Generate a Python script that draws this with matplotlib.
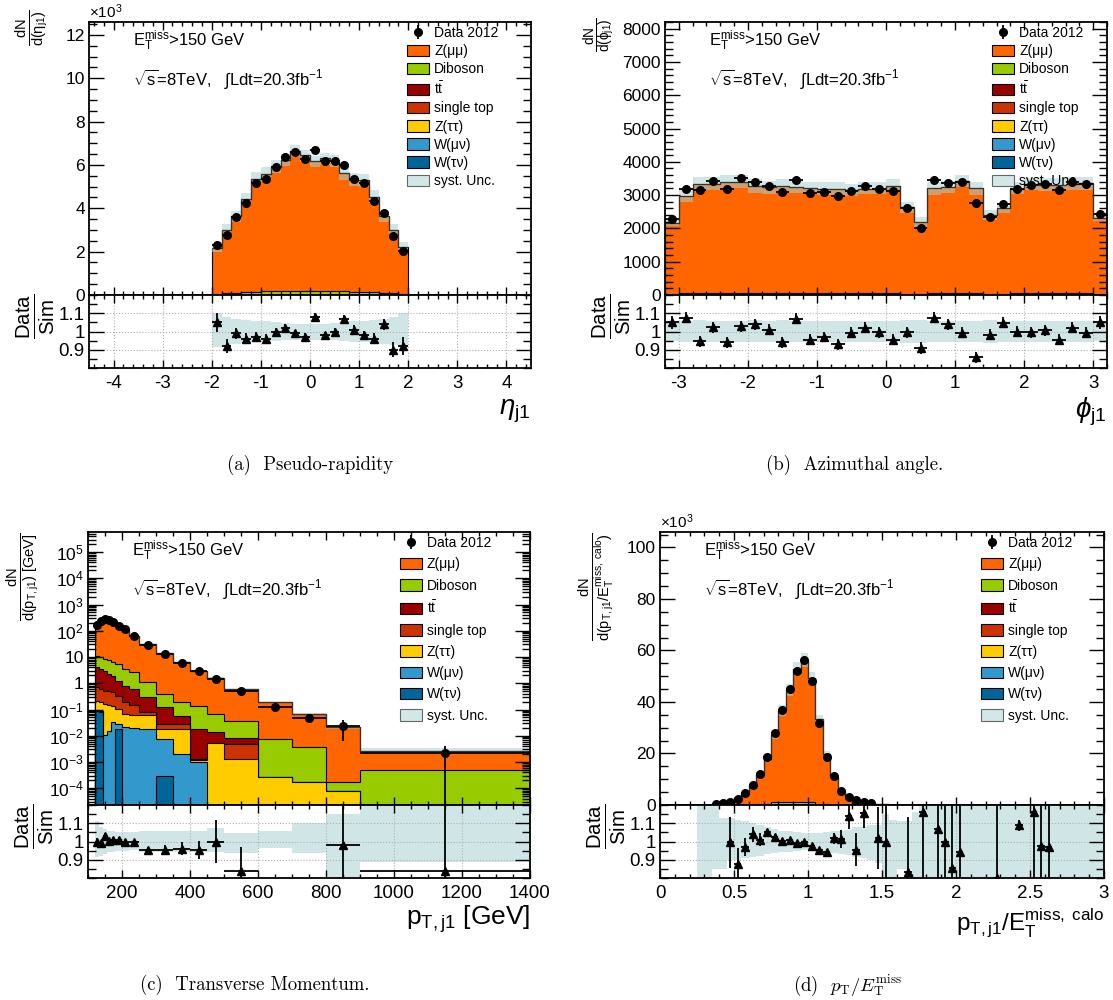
import numpy as np
import matplotlib
matplotlib.use("Agg")
import matplotlib.pyplot as plt
from matplotlib.patches import Patch
from matplotlib.ticker import FixedLocator, FixedFormatter, MultipleLocator, LogLocator, NullFormatter

plt.rcParams['font.family'] = ['Liberation Sans', 'DejaVu Sans']
plt.rcParams['mathtext.fontset'] = 'custom'
plt.rcParams['mathtext.rm'] = 'Liberation Sans'
plt.rcParams['mathtext.it'] = 'Liberation Sans:italic'
plt.rcParams['mathtext.bf'] = 'Liberation Sans:bold'

W, H = 1113, 1000

# sample colours
C_ZMM = '#ff6600'
C_DIB = '#99cc00'
C_TT = '#990000'
C_ST = '#cc3300'
C_ZTT = '#ffcc00'
C_WMU = '#3399cc'
C_WTAU = '#006699'
C_SYST = '#a8d1d1'

# ---- (a) leading jet eta (events x 10^3)
eta_edges = np.round(np.arange(-2.0, 2.01, 0.2), 2)
eta_data = [2.30, 2.78, 3.60, 4.24, 5.18, 5.37, 5.92, 6.35, 6.58, 6.26,
            6.67, 6.17, 6.18, 6.00, 5.37, 5.18, 4.35, 3.79, 2.72, 2.05]
eta_data_err = [0.07, 0.08, 0.09, 0.09, 0.10, 0.10, 0.10, 0.11, 0.11, 0.10,
                0.11, 0.10, 0.10, 0.10, 0.10, 0.10, 0.09, 0.09, 0.08, 0.07]
eta_zmm = [2.15, 2.95, 3.54, 4.29, 5.19, 5.39, 5.74, 6.05, 6.45, 6.25,
           6.00, 6.12, 6.01, 5.44, 5.16, 5.13, 4.40, 3.54, 2.95, 2.19]
eta_dib = [0.04, 0.07, 0.10, 0.13, 0.15, 0.20, 0.18, 0.18, 0.20, 0.20,
           0.18, 0.18, 0.17, 0.17, 0.16, 0.16, 0.13, 0.10, 0.07, 0.04]
eta_syst_up = [0.10, 0.08, 0.07, 0.065, 0.06, 0.055, 0.05, 0.045, 0.04, 0.04,
               0.04, 0.04, 0.045, 0.05, 0.055, 0.06, 0.065, 0.07, 0.08, 0.10]
eta_syst_dn = [0.085, 0.075, 0.07, 0.065, 0.06, 0.055, 0.05, 0.045, 0.045, 0.045,
               0.045, 0.045, 0.045, 0.05, 0.055, 0.06, 0.065, 0.07, 0.075, 0.085]
eta_ratio = [1.05, 0.92, 0.99, 0.96, 0.97, 0.96, 1.00, 1.02, 0.99, 0.97,
             1.08, 0.98, 1.00, 1.07, 1.01, 0.98, 0.96, 1.04, 0.90, 0.92]
eta_ratio_err = [0.05, 0.04, 0.03, 0.03, 0.025, 0.025, 0.02, 0.02, 0.02, 0.02,
                 0.02, 0.02, 0.02, 0.02, 0.025, 0.025, 0.03, 0.03, 0.04, 0.05]

# ---- (b) leading jet phi
phi_edges = np.round(np.arange(-3.2, 3.21, 0.2), 2)
phi_data = [2276, 3192, 3163, 3429, 3192, 3507, 3389, 3261, 3084, 3458, 3074, 3094,
            2965, 3133, 3261, 3182, 3133, 2621, 2000, 3448, 3360, 3399, 2759, 2355,
            2739, 3192, 3310, 3330, 3163, 3399, 3330, 2443]
phi_data_err = [50, 60, 60, 60, 60, 60, 60, 60, 60, 60, 60, 60, 55, 60, 60, 60,
                60, 55, 45, 60, 60, 60, 55, 50, 55, 60, 60, 60, 60, 60, 60, 50]
phi_zmm = [2128, 2914, 3280, 3289, 3341, 3345, 3201, 3174, 3231, 3177, 3165, 3138,
           3133, 3105, 3145, 3140, 3222, 2587, 2168, 3152, 3176, 3365, 3158, 2361,
           2569, 3143, 3268, 3249, 3254, 3277, 3298, 2287]
phi_dib = [40, 55, 60, 60, 55, 60, 58, 55, 50, 55, 50, 52, 55, 50, 52, 55,
           55, 45, 30, 55, 55, 58, 50, 35, 45, 55, 55, 58, 55, 55, 55, 40]
phi_syst_up = [0.05, 0.06, 0.065, 0.06, 0.06, 0.06, 0.065, 0.06, 0.065, 0.06, 0.06,
               0.06, 0.06, 0.06, 0.06, 0.06, 0.06, 0.065, 0.065, 0.06, 0.06, 0.055,
               0.06, 0.065, 0.06, 0.06, 0.06, 0.06, 0.06, 0.06, 0.06, 0.05]
phi_syst_dn = [0.05, 0.06, 0.06, 0.055, 0.055, 0.06, 0.06, 0.06, 0.06, 0.055, 0.055,
               0.055, 0.055, 0.055, 0.055, 0.055, 0.06, 0.065, 0.065, 0.06, 0.055,
               0.055, 0.06, 0.065, 0.06, 0.055, 0.055, 0.055, 0.055, 0.055, 0.055, 0.05]
phi_ratio = [1.05, 1.075, 0.947, 1.024, 0.94, 1.03, 1.04, 1.01, 0.94, 1.07, 0.956,
             0.97, 0.93, 0.993, 1.02, 0.996, 0.956, 0.996, 0.91, 1.075, 1.04, 0.993,
             0.86, 0.983, 1.048, 0.998, 0.996, 1.007, 0.956, 1.02, 0.993, 1.05]
phi_ratio_err = [0.035, 0.03, 0.03, 0.03, 0.03, 0.03, 0.03, 0.03, 0.03, 0.03, 0.03,
                 0.03, 0.03, 0.03, 0.03, 0.03, 0.03, 0.03, 0.035, 0.03, 0.03, 0.03,
                 0.03, 0.03, 0.03, 0.03, 0.03, 0.03, 0.03, 0.03, 0.03, 0.035]

# ---- (c) leading jet pT [GeV]
pt_edges = [120, 132, 144, 156, 168, 180, 200, 220, 250, 300, 350, 400, 450, 500,
            600, 700, 800, 900, 1400]
pt_data = [159, 228, 270, 263, 215, 151, 112, 66, 29, 13.2, 6.0, 2.9, 1.46, 0.51,
           0.13, 0.046, 0.023, 0.0022]
pt_data_lo = [3, 4, 4, 4, 4, 3, 3, 2, 1.2, 0.8, 0.5, 0.35, 0.25, 0.1,
              0.04, 0.012, 0.0165, 0.0022]
pt_data_hi = [3, 4, 4, 4, 4, 3, 3, 2, 1.2, 0.8, 0.5, 0.35, 0.25, 0.1,
              0.04, 0.012, 0.017, 0.002]
pt_wtau = [0.09, 0.08, 0, 0, 0, 0.018, 0, 0, 0, 0.0003, 0, 0, 0, 0, 0, 0, 0, 0]
pt_wmu = [0.01, 0.01, 0.011, 0.015, 0.032, 0.01, 0.021, 0.020, 0.018, 0.0072,
          0.002, 0.00096, 0, 0, 0, 0, 0, 0]
pt_ztt = [0.12, 0.10, 0.149, 0.135, 0.108, 0.077, 0.046, 0.040, 0.044, 0.0105,
          0.016, 0.00024, 0.0051, 0.0013, 0.00027, 0.00018, 0.000079, 0]
pt_st = [0.48, 0.42, 0.36, 0.35, 0.31, 0.235, 0.123, 0.09, 0.016, 0.01, 0.01,
         0.0001, 0, 0.0035, 0, 0, 0, 0]
pt_tt = [3.4, 2.89, 2.48, 1.8, 1.51, 0.92, 0.62, 0.46, 0.212, 0.102, 0.03, 0.0167,
         0.0083, 0.0031, 0, 0, 0, 0]
pt_dib = [6.7, 6.3, 5.5, 5.1, 4.34, 4.24, 2.69, 1.99, 0.80, 0.27, 0.142, 0.122,
          0.054, 0.029, 0.0072, 0.0036, 0.000087, 0.0005]
pt_zmm = [148, 220, 253, 256, 207, 144, 108, 63, 29.3, 13.4, 6.05, 2.86, 1.48,
          0.56, 0.18, 0.063, 0.022, 0.0022]
pt_syst_up = [0.11, 0.08, 0.07, 0.06, 0.06, 0.05, 0.05, 0.05, 0.06, 0.06, 0.06,
              0.06, 0.075, 0.045, 0.055, 0.10, 0.15, 0.25]
pt_syst_dn = [0.085, 0.08, 0.07, 0.06, 0.06, 0.05, 0.05, 0.045, 0.06, 0.06, 0.06,
              0.06, 0.055, 0.065, 0.035, 0.065, 0.20, 0.11]
pt_ratio = [1.0, 0.99, 1.03, 1.005, 1.01, 1.01, 1.0, 0.995, 0.955, 0.955, 0.96,
            0.955, 1.0, 0.84, np.nan, np.nan, 0.98, 0.84]
pt_ratio_err = [0.02, 0.015, 0.015, 0.015, 0.015, 0.015, 0.015, 0.015, 0.015, 0.025,
                0.035, 0.05, 0.12, 0.13, np.nan, np.nan, 0.5, 0.5]

# ---- (d) pT(j1) / ETmiss(calo), events x 10^3, 0.05 wide bins from 0.25
frac_edges = np.round(np.arange(0.25, 3.001, 0.05), 3)
frac_zmm = [0.02, 0.1, 0.3, 0.7, 1.3, 2.5, 4.6, 7.5, 11.7, 17.4, 26.3, 35.8, 43.6,
            51.7, 55.3, 48.3, 33.1, 19.6, 10.9, 5.3, 2.8, 2.0, 1.1, 0.7, 0.4, 0.25, 0.15]
frac_dib = [0, 0, 0, 0, 0, 0, 0, 0.1, 0.2, 0.4, 1.0, 1.0, 1.0, 1.0, 1.0, 1.0, 0.4,
            0.2, 0.1, 0, 0, 0, 0, 0, 0, 0, 0]
frac_data = [np.nan, np.nan, 0.3, 0.7, 1.3, 2.2, 4.5, 7.9, 12.0, 18.7, 28.0, 37.0,
             45.0, 52.2, 56.3, 48.0, 32.0, 18.7, 11.2, 5.4, 3.2, 1.9, 1.3, 0.7,
             np.nan, np.nan, np.nan]
frac_data_err = [0, 0, 0.03, 0.04, 0.05, 0.07, 0.1, 0.12, 0.15, 0.2, 0.25, 0.3,
                 0.3, 0.35, 0.35, 0.35, 0.3, 0.2, 0.15, 0.1, 0.08, 0.06, 0.05, 0.04,
                 0, 0, 0]
frac_syst_up = [0.25, 0.25, 0.25, 0.13, 0.13, 0.12, 0.11, 0.10, 0.09, 0.08, 0.07,
                0.06, 0.055, 0.05, 0.045, 0.045, 0.045, 0.05, 0.055, 0.06, 0.065,
                0.08, 0.08, 0.09, 0.09, 0.15, 0.12, 0.11, 0.11, 0.16] + [0.25] * 25
frac_syst_dn = [0.25, 0.25, 0.15, 0.15, 0.10, 0.10, 0.09, 0.085, 0.08, 0.07, 0.065,
                0.06, 0.055, 0.05, 0.045, 0.05, 0.055, 0.06, 0.065, 0.07, 0.075,
                0.085, 0.09, 0.10, 0.12, 0.25, 0.20, 0.15, 0.15, 0.25] + [0.25] * 25
nan = np.nan
frac_ratio = [nan, nan, nan, nan, 0.996, 0.875, 0.97, 1.04, 1.01, 1.05, 1.027, 1.005,
              1.01, 0.99, 1.0, 0.973, 0.955, 0.945, 1.018, 1.013, 1.14, 0.955, 1.155,
              nan, 1.018, 1.0, nan, nan, 0.835, nan, 1.164, nan, 1.067, 1.0, 0.855,
              0.94, nan, nan, nan, nan, 0.8, nan, nan, 1.09, nan, 1.164, 0.976, 0.97,
              nan, nan, nan, nan, nan, nan, nan]
frac_ratio_err = [nan, nan, nan, nan, 0.14, 0.09, 0.05, 0.04, 0.035, 0.02, 0.015,
                  0.012, 0.01, 0.01, 0.01, 0.01, 0.012, 0.015, 0.03, 0.05, 0.07, 0.09,
                  0.08, nan, 0.17, 0.4, nan, nan, 0.3, nan, 0.4, nan, 0.4, 0.4, 0.4,
                  0.4, nan, nan, nan, nan, 0.4, nan, nan, 0.03, nan, 0.4, 0.4, 0.4,
                  nan, nan, nan, nan, nan, nan, nan]

legend_entries = [('Z(μμ)', C_ZMM), ('Diboson', C_DIB), (r'$\mathrm{t\bar{t}}$', C_TT),
                  ('single top', C_ST), ('Z(ττ)', C_ZTT), ('W(μν)', C_WMU),
                  ('W(τν)', C_WTAU)]

fig = plt.figure(figsize=(W / 100, H / 100), dpi=100)


def panel(px, edges, comps, data, data_lo, data_hi, syst_up, syst_dn,
          ratio, ratio_err, xlim, ylim, logy=False, floor=0.0, leg_x=0.72, leg_sp=0.3):
    l, t, r, mb, rb = px
    ax = fig.add_axes([l / W, 1 - mb / H, (r - l) / W, (mb - t) / H])
    rax = fig.add_axes([l / W, 1 - rb / H, (r - l) / W, (rb - mb) / H])
    edges = np.asarray(edges, dtype=float)
    centers = 0.5 * (edges[1:] + edges[:-1])
    half = 0.5 * (edges[1:] - edges[:-1])
    if logy:
        ax.set_yscale('log')

    # stack, drawn from the top sample down
    cum = np.cumsum(np.array([c[0] for c in comps], dtype=float), axis=0)
    for i in range(len(comps) - 1, -1, -1):
        ax.stairs(np.maximum(cum[i], floor), edges, baseline=floor, fill=True,
                  facecolor=comps[i][1], edgecolor='k', linewidth=0.8)
    tot = cum[-1]
    nb = len(tot)
    up = np.array(syst_up[:nb])
    dn = np.array(syst_dn[:nb])
    ax.stairs(np.maximum(tot * (1 + up), floor), edges,
              baseline=np.maximum(tot * (1 - dn), floor), fill=True,
              facecolor=C_SYST, alpha=0.54, linewidth=0)
    ax.stairs(np.maximum(tot, floor), edges, baseline=None, color='#333333', linewidth=0.9)

    ax.errorbar(centers, data, yerr=[data_lo, data_hi], xerr=half, fmt='o', color='k',
                ms=5.5, elinewidth=1.3, capsize=0, zorder=6)
    ax.set_xlim(xlim)
    ax.set_ylim(ylim)

    # ratio pad
    redges = edges if len(syst_up) == nb else np.asarray(frac_edges)
    rc = 0.5 * (redges[1:] + redges[:-1])
    rh = 0.5 * (redges[1:] - redges[:-1])
    rax.stairs(1 + np.array(syst_up), redges, baseline=1 - np.array(syst_dn), fill=True,
               facecolor=C_SYST, alpha=0.54, linewidth=0)
    rax.errorbar(rc, ratio, yerr=ratio_err, xerr=rh, fmt='^', color='k', ms=5.5,
                 elinewidth=1.3, capsize=0, zorder=6)
    rax.set_xlim(xlim)
    rax.set_ylim(0.8, 1.2)
    rax.yaxis.set_major_locator(FixedLocator([0.9, 1.0, 1.1]))
    rax.yaxis.set_major_formatter(FixedFormatter(['0.9', '1', '1.1']))
    rax.yaxis.set_minor_locator(MultipleLocator(0.05))
    rax.grid(True, which='major', linestyle=':', color='#b0b0b0', linewidth=0.8)

    for a in (ax, rax):
        a.tick_params(which='both', direction='in', top=True, right=True, width=1)
        a.tick_params(axis='y', which='major', length=11, labelsize=12.5, pad=3)
        a.tick_params(axis='y', which='minor', length=5.5)
        a.tick_params(axis='x', which='major', length=6)
        a.tick_params(axis='x', which='minor', length=3)
        for s in a.spines.values():
            s.set_linewidth(1.3)
    ax.tick_params(labelbottom=False)
    rax.tick_params(axis='both', which='major', labelsize=13.5)
    rax.tick_params(axis='x', pad=5)

    ax.text(0.1, 0.93, r'$\mathrm{E_{T}^{miss}}$>150 GeV', transform=ax.transAxes,
            fontsize=12, va='center')
    ax.text(0.1, 0.79, r'$\sqrt{\mathrm{s}}$=8TeV,   $\int$Ldt=20.3fb$^{\mathrm{-1}}$',
            transform=ax.transAxes, fontsize=12, va='center')

    h_data = ax.errorbar([np.nan], [np.nan], yerr=[1], fmt='o', color='k', ms=5.5,
                         elinewidth=1.3, capsize=0)
    handles = [h_data] + [Patch(facecolor=c, edgecolor='k', linewidth=0.8)
                          for _, c in legend_entries]
    handles.append(Patch(facecolor='#d2e8e8', edgecolor='#666666', linewidth=0.8))
    labels = ['Data 2012'] + [n for n, _ in legend_entries] + ['syst. Unc.']
    ax.legend(handles, labels, loc='upper left', bbox_to_anchor=(leg_x, 0.985),
              frameon=False, fontsize=10, handlelength=1.6, handleheight=0.9,
              handletextpad=0.35, labelspacing=leg_sp, borderpad=0, borderaxespad=0)

    rax.text(-0.12, 0.7, r'$\frac{\mathrm{Data}}{\mathrm{Sim}}$', transform=rax.transAxes,
             rotation=90, ha='center', va='center', fontsize=21)
    return ax, rax


# (a)
ax, rax = panel((89, 22, 531, 295, 368), eta_edges, [(eta_dib, C_DIB), (eta_zmm, C_ZMM)],
                eta_data, eta_data_err, eta_data_err, eta_syst_up, eta_syst_dn,
                eta_ratio, eta_ratio_err, (-4.5, 4.5), (0, 12.6))
ax.yaxis.set_major_locator(MultipleLocator(2))
ax.yaxis.set_minor_locator(MultipleLocator(0.5))
for a in (ax, rax):
    a.xaxis.set_major_locator(MultipleLocator(1))
    a.xaxis.set_minor_locator(MultipleLocator(0.2))
rax.set_xticks([-4, -3, -2, -1, 0, 1, 2, 3, 4], ['-4', '-3', '-2', '-1', '0', '1', '2', '3', '4'])
ax.text(0.0, 1.005, r'$\times$10$^{3}$', transform=ax.transAxes, fontsize=11, va='bottom')
ax.text(-0.13, 1.045, r'$\frac{\mathrm{dN}}{\mathrm{d(\eta_{j1})}}$', transform=ax.transAxes,
        rotation=90, ha='center', va='top', fontsize=15)
rax.text(1.0, -0.6, r'$\eta_{\mathrm{j1}}$', transform=rax.transAxes, ha='right',
         va='center', fontsize=20)

# (b)
ax, rax = panel((665, 22, 1107, 295, 368), phi_edges, [(phi_dib, C_DIB), (phi_zmm, C_ZMM)],
                phi_data, phi_data_err, phi_data_err, phi_syst_up, phi_syst_dn,
                phi_ratio, phi_ratio_err, (-3.2, 3.2), (0, 8200), leg_x=0.74)
ax.yaxis.set_major_locator(MultipleLocator(1000))
ax.yaxis.set_minor_locator(MultipleLocator(200))
for a in (ax, rax):
    a.xaxis.set_major_locator(MultipleLocator(1))
    a.xaxis.set_minor_locator(MultipleLocator(0.2))
rax.set_xticks([-3, -2, -1, 0, 1, 2, 3], ['-3', '-2', '-1', '0', '1', '2', '3'])
ax.text(-0.148, 1.015, r'$\frac{\mathrm{dN}}{\mathrm{d(\phi_{j1})}}$', transform=ax.transAxes,
        rotation=90, ha='center', va='top', fontsize=14)
rax.text(1.0, -0.6, r'$\phi_{\mathrm{j1}}$', transform=rax.transAxes, ha='right',
         va='center', fontsize=20)

# (c)
pt_comps = [(pt_wtau, C_WTAU), (pt_wmu, C_WMU), (pt_ztt, C_ZTT), (pt_st, C_ST),
            (pt_tt, C_TT), (pt_dib, C_DIB), (pt_zmm, C_ZMM)]
ax, rax = panel((88, 532, 530, 805, 878), pt_edges, pt_comps, pt_data, pt_data_lo,
                pt_data_hi, pt_syst_up, pt_syst_dn, pt_ratio, pt_ratio_err,
                (100, 1400), (2.3e-5, 5.8e5), logy=True, floor=1e-7, leg_x=0.705,
                leg_sp=0.52)
ax.yaxis.set_major_locator(FixedLocator([1e-4, 1e-3, 1e-2, 1e-1, 1, 10, 1e2, 1e3, 1e4, 1e5]))
ax.yaxis.set_major_formatter(FixedFormatter([r'$10^{-4}$', r'$10^{-3}$', r'$10^{-2}$',
                                             r'$10^{-1}$', '1', '10', r'$10^{2}$',
                                             r'$10^{3}$', r'$10^{4}$', r'$10^{5}$']))
ax.yaxis.set_minor_locator(LogLocator(base=10, subs=np.arange(2, 10), numticks=40))
ax.yaxis.set_minor_formatter(NullFormatter())
for a in (ax, rax):
    a.xaxis.set_major_locator(MultipleLocator(200))
    a.xaxis.set_minor_locator(MultipleLocator(50))
rax.set_xticks([200, 400, 600, 800, 1000, 1200, 1400],
               ['200', '400', '600', '800', '1000', '1200', '1400'])
ax.text(-0.148, 1.0, r'$\frac{\mathrm{dN}}{\mathrm{d(p_{T,j1})\ [GeV]}}$',
        transform=ax.transAxes, rotation=90, ha='center', va='top', fontsize=15)
rax.text(1.0, -0.56, r'p$_{\mathrm{T,j1}}$ [GeV]', transform=rax.transAxes, ha='right',
         va='center', fontsize=19)

# (d)
ax, rax = panel((660, 532, 1104, 805, 878), frac_edges[:28],
                [(frac_dib, C_DIB), (frac_zmm, C_ZMM)], frac_data, frac_data_err,
                frac_data_err, frac_syst_up, frac_syst_dn, frac_ratio, frac_ratio_err,
                (0, 3), (0, 106), leg_x=0.723, leg_sp=0.52)
ax.yaxis.set_major_locator(MultipleLocator(20))
ax.yaxis.set_minor_locator(MultipleLocator(5))
for a in (ax, rax):
    a.xaxis.set_major_locator(MultipleLocator(0.5))
    a.xaxis.set_minor_locator(MultipleLocator(0.1))
rax.set_xticks([0, 0.5, 1, 1.5, 2, 2.5, 3], ['0', '0.5', '1', '1.5', '2', '2.5', '3'])
ax.text(0.0, 1.005, r'$\times$10$^{3}$', transform=ax.transAxes, fontsize=11, va='bottom')
ax.text(-0.142, 1.0, r'$\frac{\mathrm{dN}}{\mathrm{d(p_{T,j1}/E_{T}^{miss,\ calo})}}$',
        transform=ax.transAxes, rotation=90, ha='center', va='top', fontsize=15)
rax.text(1.0, -0.62, r'p$_{\mathrm{T,j1}}$/E$_{\mathrm{T}}^{\mathrm{miss,\ calo}}$',
         transform=rax.transAxes, ha='right', va='center', fontsize=17.5)

# captions
cap = dict(ha='center', va='center', fontsize=13.5, fontfamily='cmr10')
fig.text(310 / W, 1 - 465 / H, '(a)  Pseudo-rapidity', **cap)
fig.text(855 / W, 1 - 465 / H, '(b)  Azimuthal angle.', **cap)
fig.text(255 / W, 1 - 985 / H, '(c)  Transverse Momentum.', **cap)
fig.text(848 / W, 1 - 985 / H, r'(d)  $p_{\mathrm{T}}/E_{\mathrm{T}}^{\mathrm{miss}}$',
         math_fontfamily='cm', **cap)

fig.savefig('out.png', dpi=100)
